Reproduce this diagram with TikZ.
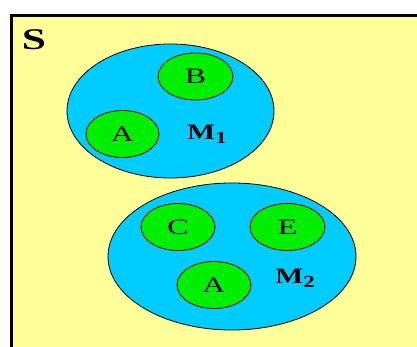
\documentclass[tikz,border=0pt]{standalone}
\usepackage{fontspec}
\setmainfont{Liberation Serif}
\usetikzlibrary{shapes.geometric}
\definecolor{setyellow}{HTML}{FFFF99}
\definecolor{setblue}{HTML}{00CCFF}
\definecolor{setgreen}{HTML}{00EE00}
\tikzset{
  bigset/.style={ellipse, draw=black, line width=0.8pt, fill=setblue, inner sep=0pt},
  elem/.style={ellipse, draw=black, line width=0.8pt, fill=setgreen, inner sep=0pt,
    minimum width=74pt, minimum height=47pt, font=\fontsize{22}{22}\selectfont},
  mlabel/.style={inner sep=0pt, font=\fontsize{22}{22}\selectfont\bfseries},
}
\newcommand{\wide}[1]{\scalebox{1.45}[1]{#1}}
\newcommand{\msub}[1]{\scalebox{1.35}[1]{M\raisebox{-4pt}{\fontsize{17}{17}\selectfont #1}}}
\begin{document}
\begin{tikzpicture}[x=1pt,y=-1pt]
\useasboundingbox (0,0) rectangle (417,347);
\fill[setyellow] (11.5,15.5) rectangle (417,347);
\draw[line width=3pt] (11.5,347) -- (11.5,15.5) -- (417,15.5);
\node[inner sep=0pt, font=\fontsize{30}{30}\selectfont\bfseries] (S) at (34,40) {\scalebox{1.45}[1]{S}};
% M1
\node[bigset, minimum width=207pt, minimum height=134pt] (M1) at (170.5,111) {};
\node[elem, minimum width=75pt] (B) at (195.5,76.5) {\wide{B}};
\node[elem, minimum width=73pt] (A1) at (122.5,134) {\wide{A}};
\node[mlabel] (M1l) at (207,134) {\msub{1}};
% M2
\node[bigset, minimum width=248pt, minimum height=147pt] (M2) at (232,256.5) {};
\node[elem] (C) at (178,227) {\wide{C}};
\node[elem, minimum width=75pt] (E) at (287.5,227) {\wide{E}};
\node[elem] (A2) at (214,285) {\wide{A}};
\node[mlabel] (M2l) at (295,278) {\msub{2}};
\end{tikzpicture}
\end{document}
